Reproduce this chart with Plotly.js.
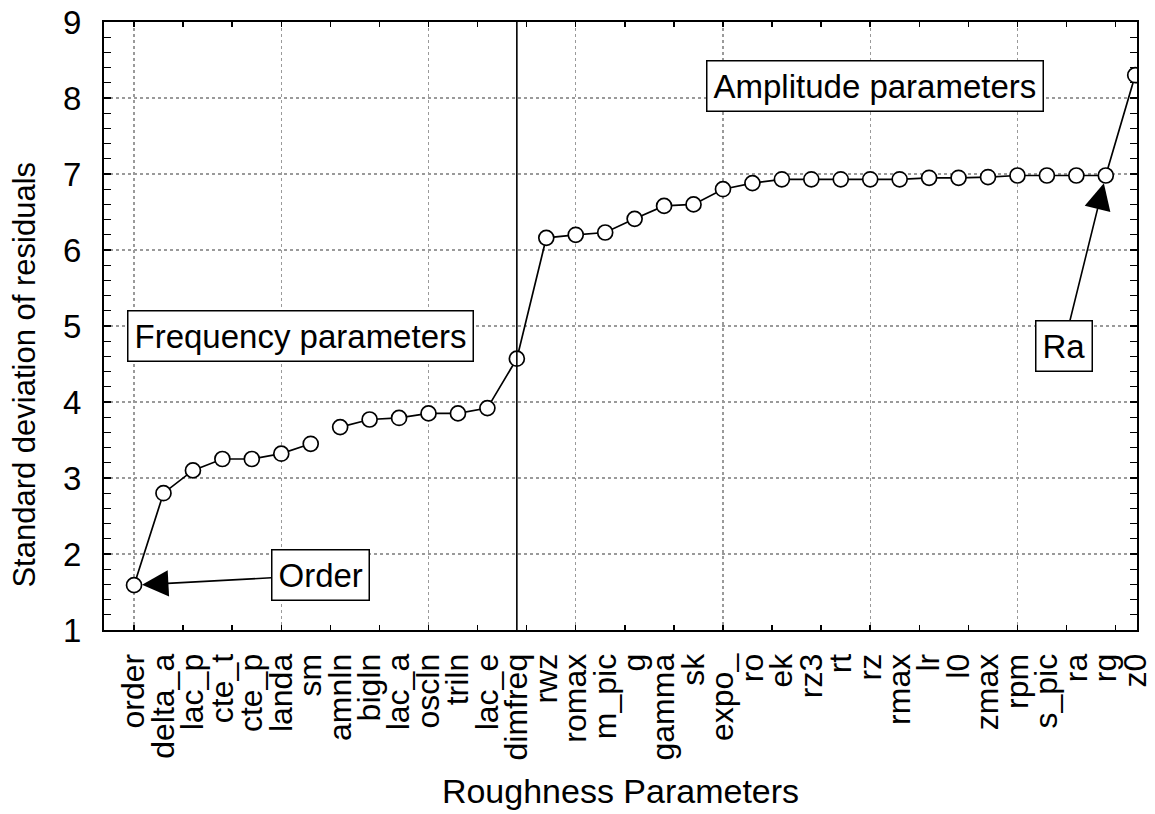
<!DOCTYPE html>
<html><head><meta charset="utf-8">
<script src="https://cdn.plot.ly/plotly-3.0.1.min.js"></script>
<style>html,body{margin:0;padding:0;background:#fff}</style>
</head><body><div id="chart" style="width:1155px;height:814px"></div>
<script>
const categories = ['order','delta_a','lac_p','cte_t','cte_p','landa','sm','amnln','bigln','lac_a','oscln','triln','lac_e','dimfreq','rwz','romax','m_pic','g','gamma','sk','expo_','ro','ek','rz3','rt','rz','rmax','lr','l0','zmax','rpm','s_pic','ra','rg','z0'];
const sdResiduals = [1.59,2.80,3.10,3.25,3.25,3.32,3.45,3.67,3.77,3.79,3.85,3.85,3.92,4.57,6.16,6.20,6.23,6.41,6.58,6.60,6.80,6.88,6.93,6.93,6.93,6.93,6.93,6.95,6.95,6.96,6.98,6.98,6.98,6.98,8.30];
const breakAfter = 'sm';
const dividerAt = 'dimfreq';
const yTicks = [1,2,3,4,5,6,7,8,9];
const xTitle = 'Roughness Parameters';
const yTitle = 'Standard deviation of residuals';

const FONT = 'Liberation Sans, Arial, Helvetica, sans-serif';
const idx = categories.map((c,i)=>i);
const xs = [], ys = [];
categories.forEach((c,i)=>{
  xs.push(i); ys.push(sdResiduals[i]);
  if (c === breakAfter) { xs.push(i+0.5); ys.push(null); }
});

const traces = [
  {x: xs, y: ys, type:'scatter', mode:'lines+markers', connectgaps:false,
   line:{color:'#000', width:1.7},
   marker:{symbol:'circle', size:15, color:'#fff', line:{color:'#000', width:1.7}},
   hoverinfo:'skip', showlegend:false},
  {x: [], y: [], xaxis:'x2', yaxis:'y', type:'scatter', showlegend:false}
];

const xr = [-1.02, categories.length - 1 + 0.06];
const iOrder = categories.indexOf('order');
const iRg = categories.indexOf('rg');
const boxFont = {size:33, family:FONT, color:'#000'};

const layout = {
  width:1155, height:814,
  margin:{l:104, r:18, t:22, b:184},
  paper_bgcolor:'#fff', plot_bgcolor:'#fff',
  font:{family:FONT, color:'#000'},
  showlegend:false,
  xaxis:{
    range:xr, tickmode:'array', tickvals:idx, ticktext:categories,
    tickangle:-90, ticks:'', showgrid:false, zeroline:false,
    tickfont:{size:32, family:FONT, color:'#000'},
    ticklabelstandoff:9,
    showline:true, linecolor:'#000', linewidth:2, mirror:'allticks',
    minor:{tickmode:'linear', tick0:0, dtick:5/3, ticks:'inside', ticklen:5, tickcolor:'#000', tickwidth:1.5, showgrid:false},
    title:{text:xTitle, font:{size:34, family:FONT, color:'#000'}, standoff:20},
    automargin:false
  },
  xaxis2:{
    overlaying:'x', range:xr, tickmode:'linear', tick0:0, dtick:5,
    showticklabels:false, ticks:'', showgrid:true, gridcolor:'#9a9a9a', griddash:'dot', gridwidth:1.2,
    zeroline:false, showline:false
  },
  yaxis:{
    range:[1,9], tickmode:'array', tickvals:yTicks, ticks:'inside', ticklen:7, tickwidth:1.5, tickcolor:'#000',
    showgrid:true, gridcolor:'#9a9a9a', griddash:'dot', gridwidth:1.2, zeroline:false,
    tickfont:{size:33, family:FONT, color:'#000'},
    ticklabelstandoff:14,
    showline:true, linecolor:'#000', linewidth:2, mirror:'allticks',
    minor:{tickmode:'linear', tick0:1, dtick:0.2, ticks:'inside', ticklen:4, tickcolor:'#000', tickwidth:1.2, showgrid:false},
    automargin:false
  },
  shapes:[
    {type:'line', xref:'x', yref:'paper', x0:categories.indexOf(dividerAt), x1:categories.indexOf(dividerAt), y0:0, y1:1,
     line:{color:'#000', width:1.6}}
  ],
  annotations:[
    {xref:'paper', yref:'paper', x:-0.0765, y:0.42, xanchor:'center', yanchor:'middle', textangle:-90,
     text:yTitle, showarrow:false, font:{size:31, family:FONT, color:'#000'}},
    {xref:'x', yref:'y', x:5.66, y:4.87, text:'Frequency parameters', showarrow:false,
     font:boxFont, bgcolor:'#fff', bordercolor:'#000', borderwidth:1.5, borderpad:6},
    {xref:'x', yref:'y', x:25.17, y:8.16, text:'Amplitude parameters', showarrow:false,
     font:boxFont, bgcolor:'#fff', bordercolor:'#000', borderwidth:1.5, borderpad:6},
    {xref:'x', yref:'y', x:iOrder, y:sdResiduals[iOrder], text:'Order', showarrow:true,
     ax:186, ay:-10, arrowhead:2, arrowsize:3.3, arrowwidth:1.6, arrowcolor:'#000', standoff:8,
     font:boxFont, bgcolor:'#fff', bordercolor:'#000', borderwidth:1.5, borderpad:6},
    {xref:'x', yref:'y', x:iRg, y:sdResiduals[iRg], text:'Ra', showarrow:true,
     ax:-42, ay:170, arrowhead:2, arrowsize:3.3, arrowwidth:1.6, arrowcolor:'#000', standoff:8,
     font:boxFont, bgcolor:'#fff', bordercolor:'#000', borderwidth:1.5, borderpad:6}
  ]
};

Plotly.newPlot('chart', traces, layout, {displayModeBar:false, staticPlot:true});
</script></body></html>
